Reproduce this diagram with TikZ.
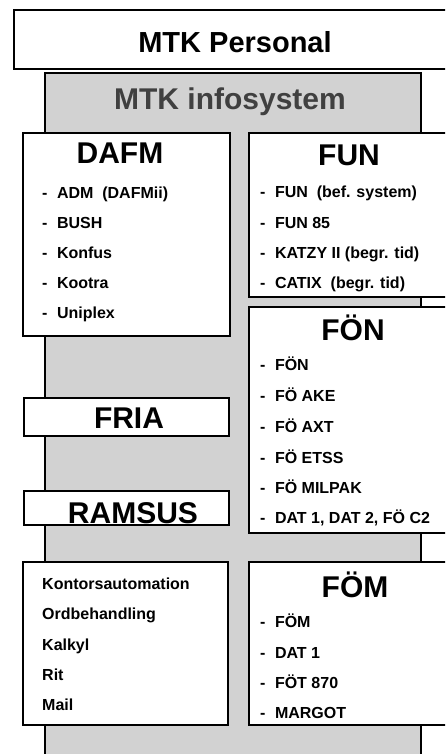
\documentclass[tikz,border=0pt]{standalone}
\usepackage{fontspec}
\setmainfont{Liberation Sans}
\usepackage{tikz}
\newcommand{\dsh}{-\hspace{9.5pt}}

\begin{document}
\begin{tikzpicture}[x=1pt, y=-1pt,
  box/.style={draw=black, line width=1.3pt, fill=white},
  head/.style={font=\fontsize{30}{30}\selectfont\bfseries, anchor=base},
  item/.style={font=\fontsize{16}{16}\selectfont\bfseries, anchor=base west, inner sep=0pt}]
\useasboundingbox (0,0) rectangle (445,754);
\clip (0,0) rectangle (445,754);
% grey plate behind everything
\draw[line width=1.2pt, fill=gray!35] (45,73) rectangle (421,765);
% top
\draw[box] (14,10) rectangle (460,69);
\node[head, font=\fontsize{29}{29}\selectfont\bfseries] (personal) at (235,53) {MTK Personal};
\node[head, text=black!75] (infosys) at (230,110) {MTK infosystem};
% left column
\draw[box] (23,133) rectangle (230,336);
\node[head] (dafm) at (120,164) {DAFM};
\node[item] (dafm1) at (42,198) {\dsh ADM~~(DAFMii)};
\node[item] (dafm2) at (42,228) {\dsh BUSH};
\node[item] (dafm3) at (42,258) {\dsh Konfus};
\node[item] (dafm4) at (42,288) {\dsh Kootra};
\node[item] (dafm5) at (42,318) {\dsh Uniplex};
\draw[box] (24,398) rectangle (229,436);
\node[head] (fria) at (129,428) {FRIA};
\draw[box] (24,491) rectangle (229,525);
\node[head] (ramsus) at (133,523) {RAMSUS};
\draw[box] (23,562) rectangle (228,725);
\node[item] (kont1) at (42,589) {Kontorsautomation};
\node[item] (kont2) at (42,619.5) {Ordbehandling};
\node[item] (kont3) at (42,650) {Kalkyl};
\node[item] (kont4) at (42,680) {Rit};
\node[item] (kont5) at (42,710) {Mail};
% right column
\draw[box] (249,133) rectangle (460,297);
\node[head] (fun) at (349,165) {FUN};
\node[item] (fun1) at (260,197) {\dsh FUN~~(bef. system)};
\node[item] (fun2) at (260,228) {\dsh FUN 85};
\node[item] (fun3) at (260,258) {\dsh KATZY II (begr. tid)};
\node[item] (fun4) at (260,288) {\dsh CATIX~~(begr. tid)};
\draw[box] (249,307) rectangle (460,533);
\node[head] (fon) at (353,340) {FÖN};
\node[item] (fon1) at (260,370) {\dsh FÖN};
\node[item] (fon2) at (260,401) {\dsh FÖ AKE};
\node[item] (fon3) at (260,432) {\dsh FÖ AXT};
\node[item] (fon4) at (260,463) {\dsh FÖ ETSS};
\node[item] (fon5) at (260,493) {\dsh FÖ MILPAK};
\node[item] (fon6) at (260,523) {\dsh DAT 1, DAT 2, FÖ C2};
\draw[box] (249,562) rectangle (460,725);
\node[head] (fom) at (355,597) {FÖM};
\node[item] (fom1) at (260,627) {\dsh FÖM};
\node[item] (fom2) at (260,658) {\dsh DAT 1};
\node[item] (fom3) at (260,688) {\dsh FÖT 870};
\node[item] (fom4) at (260,718) {\dsh MARGOT};
\end{tikzpicture}
\end{document}
